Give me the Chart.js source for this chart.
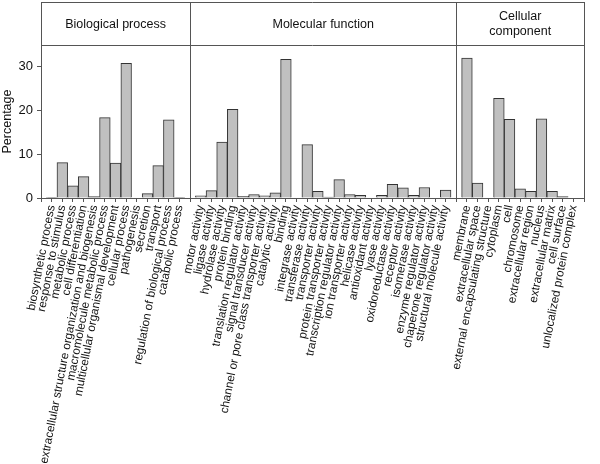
<!DOCTYPE html>
<html lang="en">

<head>
    <meta charset="UTF-8">
    <title>GO categories</title>
    <script src="https://cdn.jsdelivr.net/npm/chart.js"></script>
    <style>
        body {
            margin: 0;
            background: #fff;
        }
    </style>
</head>

<body>
    <canvas id="grafico" width="600" height="464"></canvas>
    <script>
        const gruposTitulos = ['Biological process', 'Molecular function', ['Cellular', 'component']];

        const bpLabels = ['biosynthetic process', 'response to stimulus', 'metabolic process', 'cell differentiation',
            'extracellular structure organization and biogenesis', 'macromolecule metabolic process',
            'multicellular organismal development', 'cellular process', 'pathogenesis', 'secretion', 'transport',
            'regulation of biological process', 'catabolic process'];
        const bpValues = [0.1, 8.1, 2.8, 4.9, 0.3, 18.4, 8.0, 30.8, 0, 1.0, 7.4, 17.9, 0.1];

        const mfLabels = ['motor activity', 'ligase activity', 'hydrolase activity', 'protein binding',
            'translation regulator activity', 'signal transducer activity',
            'channel or pore class transporter activity', 'catalytic activity', 'binding', 'integrase activity',
            'transferase activity', 'transporter activity', 'protein transporter activity',
            'transcription regulator activity', 'ion transporter activity', 'helicase activity',
            'antioxidant activity', 'lyase activity', 'oxidoreductase activity', 'receptor activity',
            'isomerase activity', 'enzyme regulator activity', 'chaperone regulator activity',
            'structural molecule activity'];
        const mfValues = [0.5, 1.7, 12.8, 20.3, 0.4, 0.8, 0.5, 1.2, 31.7, 0, 12.2, 1.5, 0.2, 4.2, 0.8, 0.6,
            0, 0.6, 3.1, 2.3, 0.6, 2.4, 0, 1.8];

        const ccLabels = ['membrane', 'extracellular space', 'external encapsulating structure', 'cytoplasm', 'cell',
            'chromosome', 'extracellular region', 'nucleus', 'extracellular matrix', 'cell surface',
            'unlocalized protein complex'];
        const ccValues = [32.0, 3.4, 0, 22.8, 18.0, 2.1, 1.5, 18.1, 1.5, 0.3, 0];

        const yTicks = [0, 10, 20, 30];

        // blank slots separate the three groups
        const labels = [''].concat(bpLabels, [''], mfLabels, [''], ccLabels, ['']);
        const values = [null].concat(bpValues, [null], mfValues, [null], ccValues, [null]);
        const separadores = [0, bpLabels.length + 1, bpLabels.length + mfLabels.length + 2, labels.length - 1];

        const fuente = 'Liberation Sans, Arial, sans-serif';
        const lineaColor = '#555';

        const marcoPlugin = {
            id: 'marco',
            afterDraw(chart) {
                const ctx = chart.ctx;
                const area = chart.chartArea;
                const x = chart.scales.x;
                const top = 2;
                ctx.save();
                ctx.strokeStyle = lineaColor;
                ctx.lineWidth = 1;
                ctx.beginPath();
                ctx.moveTo(area.left, top + 0.5);
                ctx.lineTo(area.right, top + 0.5);
                ctx.moveTo(area.left, area.top + 0.5);
                ctx.lineTo(area.right, area.top + 0.5);
                separadores.forEach(i => {
                    const px = Math.round(x.getPixelForValue(i)) + 0.5;
                    ctx.moveTo(px, top);
                    ctx.lineTo(px, area.bottom);
                });
                ctx.stroke();

                ctx.fillStyle = '#111';
                ctx.font = '12.5px ' + fuente;
                ctx.textAlign = 'center';
                ctx.textBaseline = 'middle';
                for (let g = 0; g < 3; g++) {
                    const cx = (x.getPixelForValue(separadores[g]) + x.getPixelForValue(separadores[g + 1])) / 2;
                    const t = gruposTitulos[g];
                    const midY = (top + area.top) / 2 + 1;
                    if (Array.isArray(t)) {
                        ctx.fillText(t[0], cx, midY - 7.5);
                        ctx.fillText(t[1], cx, midY + 7.5);
                    } else {
                        ctx.fillText(t, cx, midY);
                    }
                }
                ctx.restore();
            }
        };

        const ctx = document.getElementById('grafico').getContext('2d');
        new Chart(ctx, {
            type: 'bar',
            data: {
                labels: labels,
                datasets: [{
                    data: values,
                    backgroundColor: '#c0c0c0',
                    borderColor: '#333',
                    borderWidth: 1,
                    barPercentage: 1,
                    categoryPercentage: 1
                }]
            },
            options: {
                responsive: false,
                animation: false,
                devicePixelRatio: 1,
                layout: {
                    padding: { top: 45, right: 1, left: 0, bottom: 0 }
                },
                plugins: {
                    legend: { display: false },
                    tooltip: { enabled: false }
                },
                scales: {
                    x: {
                        type: 'category',
                        offset: false,
                        grid: {
                            display: true,
                            drawOnChartArea: false,
                            drawTicks: true,
                            tickLength: 4,
                            color: lineaColor,
                            offset: false
                        },
                        border: { display: true, color: lineaColor },
                        ticks: {
                            autoSkip: false,
                            maxRotation: 79,
                            minRotation: 79,
                            padding: 2,
                            color: '#111',
                            font: { family: fuente, size: 11.8 }
                        },
                        afterFit: s => { s.height = 266; }
                    },
                    y: {
                        min: 0,
                        max: 35,
                        grid: {
                            drawOnChartArea: false,
                            drawTicks: true,
                            tickLength: 4,
                            color: lineaColor
                        },
                        border: { display: true, color: lineaColor },
                        afterBuildTicks: s => { s.ticks = yTicks.map(v => ({ value: v })); },
                        ticks: {
                            color: '#111',
                            padding: 4,
                            font: { family: fuente, size: 13 }
                        },
                        title: {
                            display: true,
                            text: 'Percentage',
                            color: '#111',
                            padding: 0,
                            font: { family: fuente, size: 12.5 }
                        },
                        afterFit: s => { s.width = 41; }
                    }
                }
            },
            plugins: [marcoPlugin]
        });
    </script>
</body>

</html>
